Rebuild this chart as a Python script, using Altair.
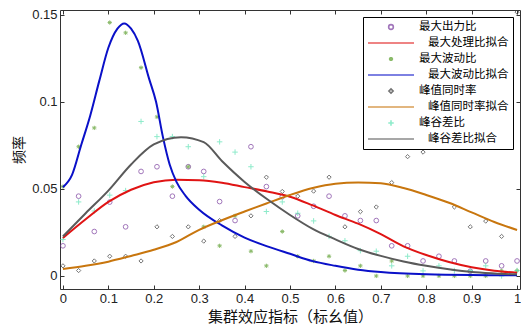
import altair as alt
import pandas as pd

# ---------------- data ----------------
names = ["最大出力比", "最大处理比拟合", "最大波动比", "最大波动比拟合",
         "峰值同时率", "峰值同时率拟合", "峰谷差比", "峰谷差比拟合"]

x_pts = [0, 0.0345, 0.069, 0.103, 0.138, 0.172, 0.207, 0.241, 0.276, 0.310,
         0.345, 0.379, 0.414, 0.448, 0.483, 0.517, 0.552, 0.586, 0.621, 0.655,
         0.690, 0.724, 0.759, 0.793, 0.828, 0.862, 0.897, 0.931, 0.966, 1.0]

max_output = [0.0173, 0.0458, 0.0255, 0.0424, 0.0282, 0.0600, 0.0627, 0.0458, 0.0627, 0.0600,
              0.0427, 0.0318, 0.0742, 0.0513, 0.0455, 0.0345, 0.0400, 0.0458, 0.0345, 0.0318,
              0.0318, 0.0173, 0.0173, 0.0086, 0.0113, 0.0086, 0.0027, 0.0086, 0.0058, 0.0086]

max_fluct = [0.0513, 0.0742, 0.0850, 0.1455, 0.1396, 0.1196, 0.0913, 0.0513, 0.0627, 0.0282,
             0.0173, 0.0345, 0.0142, 0.0058, 0.0255, 0.0113, 0.0086, 0.0113, 0.0031, 0.0058,
             0.0000, 0.0086, 0.0000, 0.0000, 0.0000, 0.0000, 0.0000, 0.0000, 0.0029, 0.0031]

peak_coin = [0.0058, 0.0031, 0.0086, 0.0113, 0.0113, 0.0086, 0.0282, 0.0227, 0.0282, 0.0200,
             0.0318, 0.0227, 0.0345, 0.0567, 0.0485, 0.0458, 0.0487, 0.0567, 0.0282, 0.0369,
             0.0396, 0.0536, 0.0685, 0.0711, 0.0773, 0.0396, 0.0282, 0.0315, 0.0227, 0.1515]

peak_valley = [0.0209, 0.0425, 0.0373, 0.0464, 0.0490, 0.0887, 0.0800, 0.0800, 0.0742, 0.0570,
               0.0770, 0.0711, 0.0627, 0.0370, 0.0425, 0.0360, 0.0316, 0.0227, 0.0202, 0.0145,
               0.0142, 0.0058, 0.0113, 0.0029, 0.0058, 0.0031, 0.0031, 0.0058, 0.0000, 0.0031]

# fitted curves
red_x = [0, 0.05, 0.1, 0.15, 0.2, 0.25, 0.3, 0.35, 0.4, 0.45, 0.5, 0.55, 0.6, 0.65,
         0.7, 0.75, 0.8, 0.85, 0.9, 0.95, 1.0]
red_y = [0.0218, 0.0325, 0.0425, 0.0495, 0.0538, 0.0553, 0.0550, 0.0535, 0.0510, 0.0485,
         0.0455, 0.0405, 0.0350, 0.0300, 0.0240, 0.0170, 0.0120, 0.0080, 0.0050, 0.0030, 0.0018]

blue_x = [0, 0.02, 0.04, 0.06, 0.08, 0.10, 0.12, 0.135, 0.15, 0.165, 0.19, 0.205, 0.22,
          0.235, 0.25, 0.27, 0.30, 0.35, 0.40, 0.45, 0.50, 0.55, 0.60, 0.65, 0.70, 0.80, 0.90, 1.0]
blue_y = [0.0510, 0.0580, 0.0750, 0.0920, 0.1120, 0.1310, 0.1420, 0.1450, 0.1420, 0.1350,
          0.1130, 0.1000, 0.0800, 0.0640, 0.0540, 0.0460, 0.0380, 0.0290, 0.0220, 0.0170,
          0.0127, 0.0085, 0.0058, 0.0036, 0.0022, 0.0009, 0.0005, 0.0004]

orange_x = [0, 0.05, 0.1, 0.15, 0.2, 0.25, 0.3, 0.35, 0.4, 0.45, 0.5, 0.55, 0.6, 0.65,
            0.7, 0.75, 0.8, 0.85, 0.9, 0.95, 1.0]
orange_y = [0.0040, 0.0058, 0.0082, 0.0115, 0.0150, 0.0195, 0.0265, 0.0320, 0.0370, 0.0418,
            0.0465, 0.0505, 0.0530, 0.0537, 0.0532, 0.0505, 0.0465, 0.0420, 0.0365, 0.0310, 0.0264]

gray_x = [0, 0.05, 0.1, 0.15, 0.2, 0.26, 0.31, 0.35, 0.4, 0.45, 0.5, 0.55, 0.6, 0.65,
          0.7, 0.75, 0.8, 0.85, 0.9, 0.95, 1.0]
gray_y = [0.0227, 0.0360, 0.0490, 0.0640, 0.0755, 0.0797, 0.0768, 0.0660, 0.0540, 0.0440,
          0.0350, 0.0270, 0.0210, 0.0155, 0.0115, 0.0083, 0.0058, 0.0038, 0.0022, 0.0014, 0.0009]

x_ticks = [0, 0.1, 0.2, 0.3, 0.4, 0.5, 0.6, 0.7, 0.8, 0.9, 1.0]
y_ticks = [0, 0.05, 0.1, 0.15]

# ---------------- tables ----------------
pts_rows = []
for nm, ys in [(names[0], max_output), (names[2], max_fluct),
               (names[4], peak_coin), (names[6], peak_valley)]:
    for xv, yv in zip(x_pts, ys):
        pts_rows.append({"x": xv, "y": yv, "series": nm})
pts = pd.DataFrame(pts_rows)

line_rows = []
for nm, xs, ys in [(names[1], red_x, red_y), (names[3], blue_x, blue_y),
                   (names[5], orange_x, orange_y), (names[7], gray_x, gray_y)]:
    for xv, yv in zip(xs, ys):
        line_rows.append({"x": xv, "y": yv, "series": nm})
lines = pd.DataFrame(line_rows)

# ---------------- styles ----------------
colors = ["#7a3c9e", "#e01414", "#5a9e2c", "#0a10c8",
          "#3a3a3a", "#c8760e", "#5fe3b5", "#5a5a5a"]
plus_path = "M-1,0L1,0M0,-1L0,1"
star_path = "M-1,0L1,0M0,-1L0,1M-0.7,-0.7L0.7,0.7M-0.7,0.7L0.7,-0.7"
shapes = ["circle", "stroke", star_path, "stroke", "diamond", "stroke", plus_path, "stroke"]
sizes = [22, 2116, 18, 2116, 18, 2116, 30, 2116]

xscale = alt.Scale(domain=[-0.0065, 1.0065], nice=False, zero=False)
yscale = alt.Scale(domain=[-0.0075, 0.1527], nice=False, zero=False)
cscale = alt.Scale(domain=names, range=colors)

cjk = "Noto Sans CJK SC"
num_font = "Liberation Sans"

legend = alt.Legend(
    title=None, orient="top-right", offset=7, columns=1,
    padding=4, strokeColor="black", fillColor="white", cornerRadius=0,
    labelFont=cjk, labelFontSize=11.5, labelColor="black",
    clipHeight=12, rowPadding=4, symbolOffset=0, labelOffset=4,
    symbolStrokeWidth=1.6,
    labelExpr="indexof(datum.label, '拟合') >= 0 ? '\u2800' + datum.label : datum.label",
)

axis_common = dict(offset=-4, tickSize=4, domain=False, grid=False, tickColor="#333",
                   labelFont=num_font, labelFontSize=13, labelColor="#222",
                   titleFont=cjk, titleColor="#111", titleFontWeight="normal")

pt_layer = alt.Chart(pts).mark_point(filled=False, strokeWidth=1, clip=True).encode(
    x=alt.X("x:Q", scale=xscale,
            axis=alt.Axis(orient="top", values=x_ticks, labels=False, title=None, **axis_common)),
    y=alt.Y("y:Q", scale=yscale,
            axis=alt.Axis(orient="right", values=y_ticks, labels=False, title=None, **axis_common)),
    color=alt.Color("series:N", scale=cscale, legend=legend),
    shape=alt.Shape("series:N", scale=alt.Scale(domain=names, range=shapes), legend=legend),
    size=alt.Size("series:N", scale=alt.Scale(type="ordinal", domain=names, range=sizes), legend=legend),
)

line_layer = alt.Chart(lines).mark_line(strokeWidth=2, interpolate="monotone", clip=True).encode(
    x=alt.X("x:Q", scale=xscale,
            axis=alt.Axis(orient="bottom", values=x_ticks, format="~g",
                          title="集群效应指标（标幺值）", titleFontSize=15,
                          labelPadding=3, titlePadding=4, **axis_common)),
    y=alt.Y("y:Q", scale=yscale,
            axis=alt.Axis(orient="left", values=y_ticks, format="~g",
                          title="频率", titleFontSize=14, labelPadding=3,
                          titlePadding=5, **axis_common)),
    color=alt.Color("series:N", scale=cscale, legend=None),
)

chart = alt.layer(pt_layer, line_layer).resolve_axis(
    x="independent", y="independent"
).properties(
    width=460, height=279,
    autosize=alt.AutoSizeParams(type="none"),
    padding={"left": 52, "top": 2, "right": 1, "bottom": 38},
    background="white",
).configure_view(stroke="#333", strokeWidth=1)

chart.save("out.html", embed_options={"renderer": "svg", "actions": False})
